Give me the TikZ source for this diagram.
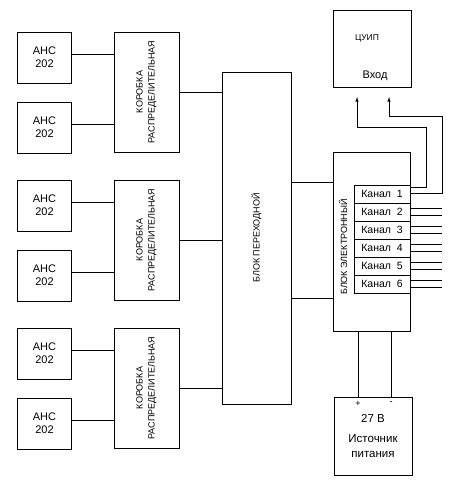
\documentclass[tikz,border=0pt]{standalone}
\usepackage{fontspec}
\setmainfont{Liberation Sans}
\usetikzlibrary{arrows,positioning}

\tikzset{
  blok/.style={draw, inner sep=0pt, align=center, font=\fontsize{11}{13}\selectfont},
  vtext/.style={rotate=90, align=center, inner sep=0pt, font=\fontsize{9}{12}\selectfont},
  kanal/.style={draw, inner sep=0pt, minimum width=56pt, minimum height=18pt, font=\fontsize{10.5}{12}\selectfont},
}

\begin{document}
\begin{tikzpicture}[>=latex, x=1pt, y=-1pt, line width=0.6pt]
    \useasboundingbox (0,0) rectangle (450,498);
    % sensor groups
    \foreach \g/\y in {1/32,2/180,3/328}
      {
        \node[blok, minimum width=53.5pt, minimum height=51pt] (ansa\g) at (44.5,\y+25.5) {АНС\\202};
        \node[blok, minimum width=53.5pt, minimum height=51pt] (ansb\g) at (44.5,\y+95.5) {АНС\\202};
        \node[blok, minimum width=65pt, minimum height=120pt] (korob\g) at (146.5,\y+60) {};
        \node[vtext] (korobt\g) at (korob\g) {КОРОБКА\\РАСПРЕДЕЛИТЕЛЬНАЯ};
        \draw (ansa\g.7) -- (ansa\g.7 -| korob\g.west);
        \draw (ansb\g.7) -- (ansb\g.7 -| korob\g.west);
      };
    \node[blok, minimum width=69pt, minimum height=332pt] (perekh) at (256.5,238) {};
    \node[vtext] (perekht) at (perekh) {БЛОК ПЕРЕХОДНОЙ};
    \foreach \g in {1,2,3}
        \draw (korob\g.east) -- (korob\g.east -| perekh.west);
    \node[blok, minimum width=77pt, minimum height=179pt] (elek) at (371.5,241.5) {};
    \node[vtext] (elekt) at (343,247) {БЛОК ЭЛЕКТРОННЫЙ};
    \coordinate (pe1) at ([yshift=56pt]perekh.east);
    \coordinate (pe2) at ([yshift=-60pt]perekh.east);
    \draw (pe1) -- (pe1 -| elek.west);
    \draw (pe2) -- (pe2 -| elek.west);
    % channels
    \foreach \i in {1,...,6}
      {
        \pgfmathsetmacro{\yk}{176+18*\i}
        \node[kanal] (kan\i) at (382,\yk) {Канал\ \ \i};
      };
    \foreach \i in {2,...,6}
      {
        \draw ([yshift=3.5pt]kan\i.east) -- ++(32,0);
        \draw ([yshift=-3.5pt]kan\i.east) -- ++(32,0);
      };
    % indicator
    \node[blok, minimum width=78pt, minimum height=77pt] (cuip) at (372,48.5) {};
    \node[font=\fontsize{8.5}{10}\selectfont] (cuipt) at (367,38) {ЦУИП};
    \node[font=\fontsize{11}{12}\selectfont] (vhod) at (375,76) {Вход};
    \coordinate (vhod1) at (357,97);
    \coordinate (vhod2) at (389,97);
    \draw[->] ([yshift=7pt]kan1.east) -- ++(16,0) -- ++(0,-60) -| (vhod1);
    \draw[->] ([yshift=1pt]kan1.east) -- ++(32,0) -- ++(0,-77) -| (vhod2);
    % power supply
    \node[blok, minimum width=78pt, minimum height=78pt, font=\fontsize{11.5}{15}\selectfont] (pit) at (373,436) {27 В\\[5pt]Источник\\питания};
    \coordinate (plus) at (358,397);
    \coordinate (minus) at (391,397);
    \draw (plus) -- (plus |- elek.south);
    \draw (minus) -- (minus |- elek.south);
    \node[below=1pt, font=\fontsize{9}{10}\selectfont] (plust) at (plus) {+};
    \node[below=1pt, font=\fontsize{9}{10}\selectfont] (minust) at (minus) {-};
\end{tikzpicture}
\end{document}
